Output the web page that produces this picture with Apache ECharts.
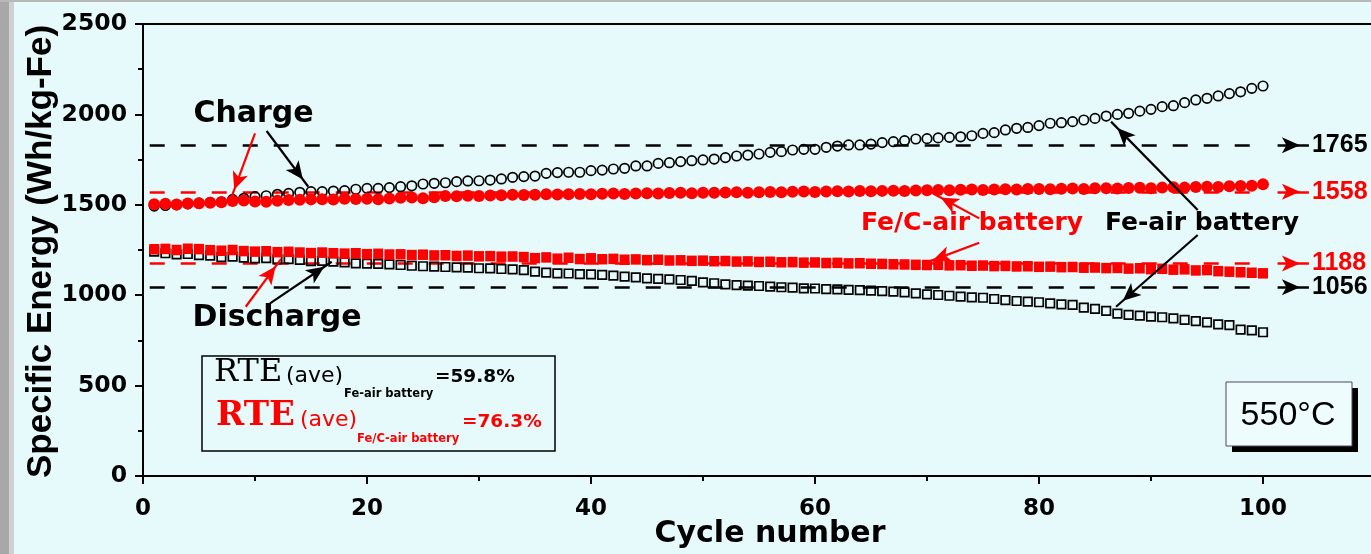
<!DOCTYPE html>
<html><head><meta charset="utf-8">
<script src="https://cdn.jsdelivr.net/npm/echarts@6/dist/echarts.min.js"></script>
<style>html,body{margin:0;padding:0;background:#e6fafc}#c{width:1371px;height:554px}</style>
</head><body><div id="c"></div>
<script>
// ---------------- data ----------------
const cycles = [1,2,3,4,5,6,7,8,9,10,11,12,13,14,15,16,17,18,19,20,21,22,23,24,25,26,27,28,29,30,31,32,33,34,35,36,37,38,39,40,41,42,43,44,45,46,47,48,49,50,51,52,53,54,55,56,57,58,59,60,61,62,63,64,65,66,67,68,69,70,71,72,73,74,75,76,77,78,79,80,81,82,83,84,85,86,87,88,89,90,91,92,93,94,95,96,97,98,99,100];

// Fe-air battery, charge (open circles)
const feAirCharge = [1493,1496,1500,1505,1509,1513,1517,1530,1536,1545,1550,1558,1563,1569,1573,1573,1576,1578,1586,1591,1591,1595,1600,1605,1615,1619,1622,1628,1632,1633,1637,1643,1652,1656,
1659,1674,1678,1680,1680,1689,1692,1698,1702,1715,1715,1729,1733,1739,1744,1748,1753,1761,1770,1775,1781,1790,1794,1803,1807,1807,1818,1825,1831,1831,1836,1844,1849,1855,1864,
1866,1870,1873,1876,1882,1895,1899,1914,1923,1928,1938,1951,1954,1960,1969,1978,1991,2000,2006,2018,2028,2043,2048,2065,2080,2089,2102,2115,2125,2144,2157];

// Fe-air battery, discharge (open squares)
const feAirDischarge = [1241,1232,1226,1228,1222,1219,1211,1213,1208,1204,1205,1198,1200,1195,1189,1190,1186,1182,1176,1175,1173,1171,1167,1163,1160,1158,1156,1154,1152,1149,1148,1145,1143,1139,
1130,1125,1121,1120,1117,1115,1112,1108,1103,1099,1093,1090,1088,1084,1079,1071,1066,1060,1056,1053,1051,1047,1044,1042,1038,1037,1034,1032,1029,1028,1025,1023,1020,1016,1010,
1005,1001,997,992,988,986,979,973,968,964,961,955,949,946,931,924,913,898,891,887,881,878,872,863,857,850,839,835,810,806,795];

// Fe/C-air battery, charge (filled circles)
const feCCharge = [1503,1506,1502,1507,1508,1511,1514,1521,1524,1518,1517,1522,1526,1528,1530,1531,1529,1533,1532,1534,1531,1535,1539,1540,1536,1542,1548,1547,1550,1549,1551,1553,1555,1554,
1556,1558,1557,1559,1560,1558,1561,1562,1560,1563,1564,1562,1565,1566,1564,1567,1566,1568,1569,1567,1570,1571,1569,1572,1573,1571,1574,1575,1573,1576,1575,1577,1578,1576,1579,
1580,1582,1581,1583,1584,1582,1585,1586,1584,1587,1588,1586,1589,1590,1588,1591,1592,1590,1593,1594,1592,1595,1597,1595,1598,1600,1598,1602,1604,1606,1613];

// Fe/C-air battery, discharge (filled squares)
const feCDischarge = [1254,1256,1250,1257,1255,1249,1246,1250,1244,1241,1243,1238,1240,1236,1233,1236,1232,1230,1232,1227,1229,1225,1226,1222,1224,1220,1221,1217,1219,1215,1216,1213,1214,1211,
1205,1209,1202,1207,1200,1204,1199,1201,1196,1198,1194,1196,1192,1193,1190,1191,1188,1189,1186,1187,1184,1185,1182,1183,1180,1181,1178,1179,1176,1177,1174,1173,1171,1170,1168,
1167,1168,1165,1166,1163,1164,1161,1162,1159,1160,1157,1158,1155,1156,1152,1153,1150,1151,1147,1149,1144,1146,1141,1143,1137,1139,1133,1130,1127,1124,1121];

// average reference lines: printed label and level where the dashed line is drawn
const refLabels = ['1765', '1558', '1188', '1056'];
const refLevels = [1829, 1572, 1176, 1044];

// annotation arrows [fromCycle, fromValue, toCycle, toValue]
const blackArrows = [[11.04,1908,14.76,1600],[11.34,955,16.85,1185],[94.17,1471,86.43,1960],[94.17,1333,86.88,936]];
const redArrows = [[10.0,1895,7.86,1536],[9.17,936,12.32,1200],[74.67,1425,70.51,1564],[74.67,1290,69.76,1176]];

const xTicks = [0,20,40,60,80,100];
const yTicks = [0,500,1000,1500,2000,2500];

// ---------------- chart ----------------
const BLACK = '#000000', RED = '#ff0000';
const toPts = arr => cycles.map((c, i) => [c, arr[i]]);
const HEAD = [12, 18];

function dashedLine(level, color) {
  return [{coord:[0.6, level], symbol:'none', lineStyle:{type:[15,16], color:color, width:2.5}},
          {coord:[100, level], symbol:'none'}];
}
function labelArrow(level, text, color) {
  return [{coord:[101.3, level], symbol:'none', lineStyle:{type:'solid', color:color, width:2.5},
           label:{show:true, position:'end', formatter:text, color:color, fontFamily:'Liberation Sans', fontWeight:'bold', fontSize:25, distance:3}},
          {coord:[104.1, level], symbol:'arrow', symbolSize:HEAD, symbolOffset:[0, HEAD[1]/2]}];
}
function arrow(a, color) {
  return [{coord:[a[0], a[1]], symbol:'none', lineStyle:{type:'solid', color:color, width:2.2}},
          {coord:[a[2], a[3]], symbol:'arrow', symbolSize:HEAD, symbolOffset:[0, HEAD[1]/2]}];
}
const blackIdx = [0, 3], redIdx = [1, 2];

const option = {
  animation: false,
  backgroundColor: '#e6fafc',
  grid: {left:143, top:24, right:-116, bottom:78, outerBoundsMode:'none', containLabel:false, show:true, borderColor:'#000', borderWidth:2, backgroundColor:'transparent'},
  xAxis: {
    type:'value', min:0, max:120, interval:20,
    axisLine:{show:true, onZero:false, lineStyle:{color:'#000', width:2}},
    axisTick:{show:true, inside:false, length:8, lineStyle:{color:'#000', width:2}},
    minorTick:{show:true, splitNumber:2, length:5, lineStyle:{color:'#000', width:2}},
    splitLine:{show:false},
    axisLabel:{show:true, showMaxLabel:false, margin:22, color:'#000', fontFamily:'DejaVu Sans', fontWeight:'bold', fontSize:23,
      formatter: v => xTicks.indexOf(v) >= 0 ? String(v) : ''}
  },
  yAxis: {
    type:'value', min:0, max:2500, interval:500,
    axisLine:{show:true, onZero:false, lineStyle:{color:'#000', width:2}},
    axisTick:{show:true, inside:false, length:8, lineStyle:{color:'#000', width:2}},
    minorTick:{show:true, splitNumber:2, length:5, lineStyle:{color:'#000', width:2}},
    splitLine:{show:false},
    axisLabel:{show:true, margin:16, color:'#000', fontFamily:'DejaVu Sans', fontWeight:'bold', fontSize:23.5,
      formatter: v => yTicks.indexOf(v) >= 0 ? String(v) : ''}
  },
  series: [
    {name:'Fe-air charge', type:'scatter', data:toPts(feAirCharge), symbol:'circle', symbolSize:9.5,
     itemStyle:{color:'rgba(0,0,0,0)', borderColor:BLACK, borderWidth:1.7, opacity:1}, z:2,
     markLine:{silent:true, z:6, symbol:['none','none'], label:{show:false},
       data: blackArrows.map(a => arrow(a, BLACK))
         .concat(blackIdx.map(i => labelArrow(refLevels[i], refLabels[i], BLACK)))}},
    {name:'Fe-air discharge', type:'scatter', data:toPts(feAirDischarge), symbol:'rect', symbolSize:8.5,
     itemStyle:{color:'rgba(0,0,0,0)', borderColor:BLACK, borderWidth:1.7, opacity:1}, z:2,
     markLine:{silent:true, z:1, symbol:['none','none'], label:{show:false},
       data: blackIdx.map(i => dashedLine(refLevels[i], BLACK))}},
    {name:'Fe/C-air charge', type:'scatter', data:toPts(feCCharge), symbol:'circle', symbolSize:12,
     itemStyle:{color:RED, opacity:1}, z:3,
     markLine:{silent:true, z:6, symbol:['none','none'], label:{show:false},
       data: redArrows.map(a => arrow(a, RED))
         .concat(redIdx.map(i => labelArrow(refLevels[i], refLabels[i], RED)))}},
    {name:'Fe/C-air discharge', type:'scatter', data:toPts(feCDischarge), symbol:'rect', symbolSize:[10,10.5],
     itemStyle:{color:RED, opacity:1}, z:3,
     markLine:{silent:true, z:1, symbol:['none','none'], label:{show:false},
       data: redIdx.map(i => dashedLine(refLevels[i], RED))}}
  ],
  graphic: [
    {type:'rect', silent:true, z:-1, shape:{x:0,y:0,width:9,height:554}, style:{fill:'#a8a8a8'}},
    {type:'rect', silent:true, z:-1, shape:{x:9,y:0,width:5,height:554}, style:{fill:'#d0d0d0'}},
    {type:'rect', silent:true, z:-1, shape:{x:0,y:0,width:1371,height:2}, style:{fill:'#b8b8b8'}},
    {type:'text', x:41, y:251.5, rotation:Math.PI/2, style:{text:'Specific Energy (Wh/kg-Fe)', font:'bold 35px "Liberation Sans"', fill:'#000', align:'center', verticalAlign:'middle', textAlign:'center', textVerticalAlign:'middle'}},
    {type:'text', x:770, y:534, style:{text:'Cycle number', font:'bold 30px "DejaVu Sans"', fill:'#000', align:'center', verticalAlign:'middle', textAlign:'center', textVerticalAlign:'middle'}},
    {type:'text', x:253.5, y:114, style:{text:'Charge', font:'bold 30px "DejaVu Sans"', fill:'#000', align:'center', verticalAlign:'middle', textAlign:'center', textVerticalAlign:'middle'}},
    {type:'text', x:277, y:318, style:{text:'Discharge', font:'bold 30px "DejaVu Sans"', fill:'#000', align:'center', verticalAlign:'middle', textAlign:'center', textVerticalAlign:'middle'}},
    {type:'text', x:972, y:223, style:{text:'Fe/C-air battery', font:'bold 25px "DejaVu Sans"', fill:RED, align:'center', verticalAlign:'middle', textAlign:'center', textVerticalAlign:'middle'}},
    {type:'text', x:1202, y:223, style:{text:'Fe-air battery', font:'bold 25px "DejaVu Sans"', fill:'#000', align:'center', verticalAlign:'middle', textAlign:'center', textVerticalAlign:'middle'}},
    // RTE box
    {type:'rect', shape:{x:202,y:356,width:353,height:95}, style:{fill:'none', stroke:'#000', lineWidth:1.5}},
    {type:'text', x:214, y:373, style:{text:'RTE', font:'32px "DejaVu Serif"', fill:'#000', align:'left', verticalAlign:'middle', textAlign:'left', textVerticalAlign:'middle'}},
    {type:'text', x:286, y:376, style:{text:'(ave)', font:'22px "DejaVu Sans"', fill:'#000', align:'left', verticalAlign:'middle', textAlign:'left', textVerticalAlign:'middle'}},
    {type:'text', x:344, y:394, style:{text:'Fe-air battery', font:'bold 11.5px "DejaVu Sans"', fill:'#000', align:'left', verticalAlign:'middle', textAlign:'left', textVerticalAlign:'middle'}},
    {type:'text', x:435, y:377, style:{text:'=59.8%', font:'bold 18.5px "DejaVu Sans"', fill:'#000', align:'left', verticalAlign:'middle', textAlign:'left', textVerticalAlign:'middle'}},
    {type:'text', x:216, y:416.5, style:{text:'RTE', font:'bold 34px "DejaVu Serif"', fill:RED, align:'left', verticalAlign:'middle', textAlign:'left', textVerticalAlign:'middle'}},
    {type:'text', x:300, y:420, style:{text:'(ave)', font:'22px "DejaVu Sans"', fill:RED, align:'left', verticalAlign:'middle', textAlign:'left', textVerticalAlign:'middle'}},
    {type:'text', x:357, y:439, style:{text:'Fe/C-air battery', font:'bold 11.5px "DejaVu Sans"', fill:RED, align:'left', verticalAlign:'middle', textAlign:'left', textVerticalAlign:'middle'}},
    {type:'text', x:462, y:422, style:{text:'=76.3%', font:'bold 18.5px "DejaVu Sans"', fill:RED, align:'left', verticalAlign:'middle', textAlign:'left', textVerticalAlign:'middle'}},
    // temperature box
    {type:'rect', shape:{x:1232,y:388,width:126,height:64}, style:{fill:'#000'}},
    {type:'rect', shape:{x:1226,y:382,width:126,height:64}, style:{fill:'#eefcfd', stroke:'#4a4a5a', lineWidth:1}},
    {type:'text', x:1288, y:416, style:{text:'550°C', font:'34px "Liberation Sans"', fill:'#000', align:'center', verticalAlign:'middle', textAlign:'center', textVerticalAlign:'middle'}}
  ]
};
const chart = echarts.init(document.getElementById('c'), null, {renderer:'canvas'});
chart.setOption(option);
</script>
</body></html>
